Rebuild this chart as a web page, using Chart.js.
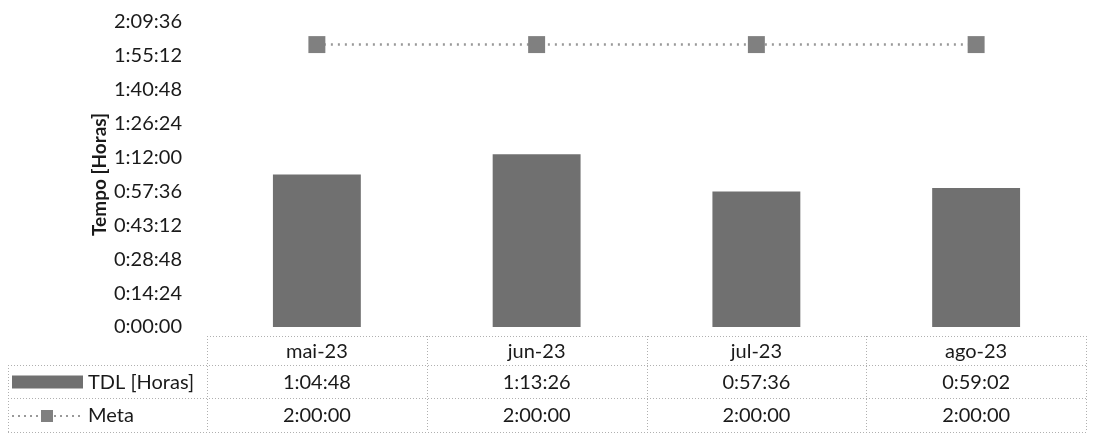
<!DOCTYPE html>
<html>
<head>
<meta charset="utf-8">
<script src="https://cdn.jsdelivr.net/npm/chart.js@4/dist/chart.umd.min.js"></script>
<style>
    html, body { margin: 0; padding: 0; background: #fff; }
    #wrap { width: 1099px; height: 436px; position: relative; }
</style>
</head>
<body>
<div id="wrap"><canvas id="myChart"></canvas></div>
<script>
// valores em segundos
const months = ["mai-23", "jun-23", "jul-23", "ago-23"];
const tdlSeconds = [3888, 4406, 3456, 3542];
const metaSeconds = [7200, 7200, 7200, 7200];
const yMax = 7776;
const yStep = 864;

const FONT = "Lato, 'Open Sans', sans-serif";

function fmt(sec) {
    const h = Math.floor(sec / 3600);
    const m = Math.floor((sec % 3600) / 60);
    const s = Math.round(sec % 60);
    return h + ":" + String(m).padStart(2, "0") + ":" + String(s).padStart(2, "0");
}

// tabela de dados abaixo do grafico, como no Excel
const dataTable = {
    id: "dataTable",
    afterDraw(chart) {
        const ctx = chart.ctx;
        const x = chart.scales.x;
        const area = chart.chartArea;
        const w = (area.right - area.left) / months.length;
        const rows = [336, 365, 398, 432];
        const legLeft = 8;

        ctx.save();
        ctx.strokeStyle = "#b0b0b0";
        ctx.lineWidth = 1;
        ctx.setLineDash([1, 2]);
        // linhas horizontais
        ctx.beginPath();
        ctx.moveTo(area.left, rows[0] + 0.5);
        ctx.lineTo(area.right, rows[0] + 0.5);
        for (let i = 1; i < rows.length; i++) {
            ctx.moveTo(legLeft, rows[i] + 0.5);
            ctx.lineTo(area.right, rows[i] + 0.5);
        }
        // linhas verticais
        for (let i = 0; i <= months.length; i++) {
            const xx = Math.round(area.left + i * w) + 0.5;
            ctx.moveTo(xx, rows[0]);
            ctx.lineTo(xx, rows[3]);
        }
        ctx.moveTo(legLeft + 0.5, rows[1]);
        ctx.lineTo(legLeft + 0.5, rows[3]);
        ctx.stroke();
        ctx.setLineDash([]);

        ctx.fillStyle = "#1a1a1a";
        ctx.font = "20px " + FONT;
        ctx.textBaseline = "middle";
        ctx.textAlign = "center";
        months.forEach((m, i) => {
            const cx = x.getPixelForValue(i);
            ctx.fillText(m, cx, (rows[0] + rows[1]) / 2 + 1);
            ctx.fillText(fmt(tdlSeconds[i]), cx, (rows[1] + rows[2]) / 2 + 1);
            ctx.fillText(fmt(metaSeconds[i]), cx, (rows[2] + rows[3]) / 2 + 1);
        });

        // legendas
        const y1 = (rows[1] + rows[2]) / 2;
        const y2 = (rows[2] + rows[3]) / 2;
        ctx.fillStyle = "#707070";
        ctx.fillRect(12, y1 - 6, 71, 13);

        ctx.strokeStyle = "#999";
        ctx.lineWidth = 2;
        ctx.setLineDash([2, 4]);
        ctx.beginPath();
        ctx.moveTo(12, y2 + 1);
        ctx.lineTo(83, y2 + 1);
        ctx.stroke();
        ctx.setLineDash([]);
        ctx.fillStyle = "#808080";
        ctx.fillRect(41, y2 - 5, 12, 12);

        ctx.fillStyle = "#1a1a1a";
        ctx.textAlign = "left";
        ctx.fillText("TDL [Horas]", 88, y1 + 1);
        ctx.fillText("Meta", 88, y2 + 1);
        ctx.restore();
    },
};

const ctx = document.getElementById("myChart");
new Chart(ctx, {
    type: "bar",
    data: {
        labels: months,
        datasets: [
            {
                type: "line",
                label: "Meta",
                data: metaSeconds,
                borderColor: "#999",
                borderWidth: 2.5,
                borderDash: [2, 5],
                pointStyle: "rect",
                pointRadius: 12,
                pointBackgroundColor: "#808080",
                pointBorderColor: "#808080",
                pointBorderWidth: 0,
                fill: false,
                order: 0,
            },
            {
                label: "TDL [Horas]",
                data: tdlSeconds,
                backgroundColor: "#707070",
                borderWidth: 0,
                categoryPercentage: 1,
                barPercentage: 0.4,
                order: 1,
            },
        ],
    },
    options: {
        responsive: true,
        maintainAspectRatio: false,
        animation: false,
        layout: {
            padding: { top: 22, bottom: 109, right: 13, left: 0 },
        },
        plugins: {
            legend: { display: false },
            tooltip: { enabled: false },
        },
        scales: {
            x: {
                display: false,
                offset: true,
            },
            y: {
                min: 0,
                max: yMax,
                grid: { display: false },
                border: { display: false },
                afterFit(scale) {
                    scale.width = 207;
                    scale.paddingTop = 0;
                    scale.paddingBottom = 0;
                },
                ticks: {
                    stepSize: yStep,
                    padding: 17,
                    color: "#1a1a1a",
                    font: { family: FONT, size: 20 },
                    callback: (v) => fmt(v),
                },
                title: {
                    display: true,
                    text: "Tempo [Horas]",
                    color: "#1a1a1a",
                    font: { family: FONT, size: 19, weight: "bold" },
                    padding: { top: 88, bottom: 0 },
                },
            },
        },
    },
    plugins: [dataTable],
});
</script>
</body>
</html>
